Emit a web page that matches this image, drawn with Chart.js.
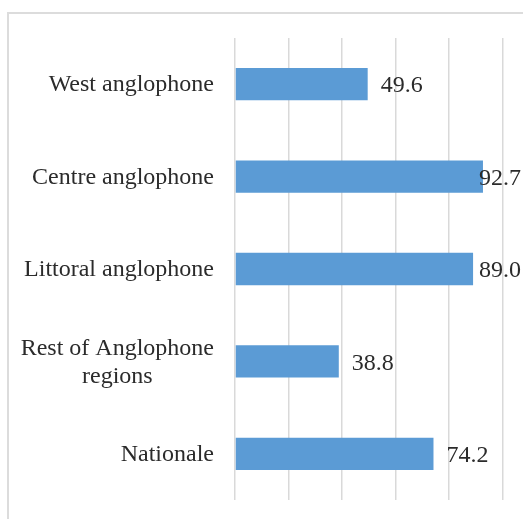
<!DOCTYPE html>
<html>
<head>
<meta charset="utf-8">
<script src="https://cdn.jsdelivr.net/npm/chart.js@4/dist/chart.umd.min.js"></script>
<style>
  html, body { margin: 0; padding: 0; background: #fff; overflow: hidden; }
  #cadre { position: absolute; left: 7px; top: 12px; width: 700px; height: 700px;
           border-left: 2px solid #dcdcdc; border-top: 2px solid #dcdcdc; }
  #zone { position: absolute; left: 0; top: 0; width: 523px; height: 519px; }
</style>
</head>
<body>
<div id="cadre"></div>
<div id="zone"><canvas id="grafico-barras" width="523" height="519"></canvas></div>
<script>
// Datos del gráfico
var categorias = [
  "West anglophone",
  "Centre anglophone",
  "Littoral anglophone",
  ["Rest of Anglophone", "regions"],
  "Nationale"
];
var valores = [49.6, 92.7, 89.0, 38.8, 74.2];
var etiquetasValor = ["49.6", "92.7", "89.0", "38.8", "74.2"];

var fuente = "'Liberation Serif', 'Times New Roman', serif";
var colorTexto = "#2b2b2b";
var tamFuente = 24;

// Etiquetas del eje vertical (centradas línea a línea, bloque alineado a la derecha)
var etiquetasEje = {
  id: "etiquetasEje",
  afterDraw: function (chart) {
    var ctx = chart.ctx;
    var ejeY = chart.scales.y;
    var derecha = chart.chartArea.left - 21;
    ctx.save();
    ctx.font = tamFuente + "px " + fuente;
    ctx.fillStyle = colorTexto;
    ctx.textBaseline = "middle";
    ctx.textAlign = "center";
    categorias.forEach(function (cat, i) {
      var lineas = Array.isArray(cat) ? cat : [cat];
      var ancho = Math.max.apply(null, lineas.map(function (l) { return ctx.measureText(l).width; }));
      var cx = derecha - ancho / 2;
      var y0 = ejeY.getPixelForTick(i) - (lineas.length - 1) * 28 / 2;
      lineas.forEach(function (l, k) {
        ctx.fillText(l, cx, y0 + k * 28 + 1);
      });
    });
    ctx.restore();
  }
};

// Etiquetas de valor al final de cada barra
var etiquetasBarras = {
  id: "etiquetasBarras",
  afterDatasetsDraw: function (chart) {
    var ctx = chart.ctx;
    var meta = chart.getDatasetMeta(0);
    ctx.save();
    ctx.font = tamFuente + "px " + fuente;
    ctx.fillStyle = colorTexto;
    ctx.textBaseline = "middle";
    ctx.textAlign = "left";
    meta.data.forEach(function (barra, i) {
      var texto = etiquetasValor[i];
      var w = ctx.measureText(texto).width;
      var x = Math.min(barra.x + 13, chart.width - 2 - w);
      ctx.fillText(texto, x, barra.y + 2);
    });
    ctx.restore();
  }
};

var ctx = document.getElementById("grafico-barras").getContext("2d");

var grafico = new Chart(ctx, {
  type: "bar",
  data: {
    labels: categorias,
    datasets: [
      {
        data: valores,
        backgroundColor: "#5b9bd5",
        borderWidth: 0,
        categoryPercentage: 1,
        barPercentage: 0.35
      }
    ]
  },
  options: {
    indexAxis: "y",
    responsive: false,
    animation: false,
    layout: { padding: { top: 38, bottom: 19, left: 0, right: 20.5 } },
    plugins: {
      legend: { display: false },
      tooltip: { enabled: false }
    },
    scales: {
      x: {
        min: 0,
        max: 100,
        ticks: { display: false, stepSize: 20 },
        grid: { color: "#d9d9d9", lineWidth: 1.5, drawTicks: false },
        border: { display: false }
      },
      y: {
        ticks: { color: "rgba(0,0,0,0)", font: { size: tamFuente, family: fuente } },
        grid: { display: false },
        border: { display: false },
        afterFit: function (escala) { escala.width = 235; }
      }
    }
  },
  plugins: [etiquetasEje, etiquetasBarras]
});
</script>
</body>
</html>
